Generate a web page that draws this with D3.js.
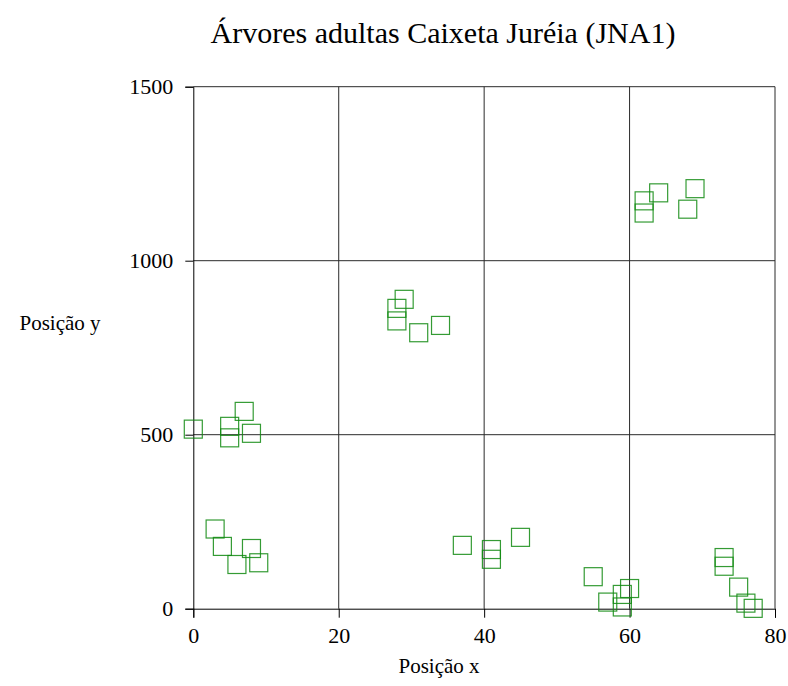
<!DOCTYPE html>
<html>
<head>
<meta charset="utf-8">
<script src="https://cdn.jsdelivr.net/npm/d3@7"></script>
<style>
  body { margin: 0; background: #fff; }
  text { font-family: "Liberation Serif", "Times New Roman", serif; fill: #000; }
</style>
</head>
<body>
<div id="chart"></div>
<script>
// tree positions
var posX = [0, 7, 5, 5, 8, 3, 4, 8, 6, 9,
            29, 28, 28, 31, 34, 37, 41, 41, 45,
            62, 62, 64, 69, 68,
            55, 57, 59, 59, 60, 73, 73, 75, 76, 77];
var posY = [516, 567, 524, 491, 504, 229, 179, 173, 127, 132,
            889, 863, 827, 793, 814, 182, 170, 142, 205,
            1172, 1137, 1195, 1207, 1148,
            92, 19, 41, 5, 58, 147, 122, 62, 16, 1];
var xTicks = [0, 20, 40, 60, 80];
var yTicks = [0, 500, 1000, 1500];

const width = 788, height = 686;
const plotLeft = 193.3, plotRight = 775, plotTop = 86.7, plotBottom = 608.7;

var svg = d3.select("#chart")
  .append("svg")
  .attr("width", width)
  .attr("height", height);

var x = d3.scaleLinear().domain([0, 80]).range([plotLeft, plotRight]);
var y = d3.scaleLinear().domain([0, 1500]).range([plotBottom, plotTop]);

// grid lines
svg.append("g").selectAll("line")
  .data(xTicks.slice(1))
  .enter().append("line")
  .attr("x1", d => x(d)).attr("x2", d => x(d))
  .attr("y1", plotTop).attr("y2", plotBottom)
  .attr("stroke", "#2a2a2a").attr("stroke-width", 1);
svg.append("g").selectAll("line")
  .data(yTicks.slice(1))
  .enter().append("line")
  .attr("x1", plotLeft).attr("x2", plotRight)
  .attr("y1", d => y(d)).attr("y2", d => y(d))
  .attr("stroke", "#2a2a2a").attr("stroke-width", 1);

// axes
var xAxis = svg.append("g")
  .attr("transform", "translate(0," + plotBottom + ")")
  .call(d3.axisBottom(x).tickValues(xTicks).tickFormat(d3.format("d")).tickSize(9).tickPadding(4));
var yAxis = svg.append("g")
  .attr("transform", "translate(" + plotLeft + ",0)")
  .call(d3.axisLeft(y).tickValues(yTicks).tickFormat(d3.format("d")).tickSize(8).tickPadding(12));

[xAxis, yAxis].forEach(function(a) {
  a.select(".domain").attr("stroke", "#000");
  a.selectAll(".tick line").attr("stroke", "#000");
  a.selectAll(".tick text")
    .style("font-family", "'Liberation Serif', serif")
    .style("font-size", "22px")
    .attr("fill", "#000");
});
xAxis.selectAll(".tick text").attr("dy", "0.95em");

// squares
var half = 9;
svg.append("g").selectAll("rect")
  .data(posX.map((d, i) => ({x: d, y: posY[i]})))
  .enter().append("rect")
  .attr("x", d => x(d.x) - half)
  .attr("y", d => y(d.y) - half)
  .attr("width", half * 2)
  .attr("height", half * 2)
  .attr("fill", "none")
  .attr("stroke", "#108a10")
  .attr("stroke-opacity", 0.85)
  .attr("stroke-width", 1.2);

// titles
svg.append("text")
  .attr("x", 443).attr("y", 43)
  .attr("text-anchor", "middle")
  .style("font-size", "30px")
  .text("Árvores adultas Caixeta Juréia (JNA1)");

svg.append("text")
  .attr("x", 439).attr("y", 673)
  .attr("text-anchor", "middle")
  .style("font-size", "21px")
  .text("Posição x");

svg.append("text")
  .attr("x", 60).attr("y", 330)
  .attr("text-anchor", "middle")
  .style("font-size", "21px")
  .text("Posição y");
</script>
</body>
</html>
